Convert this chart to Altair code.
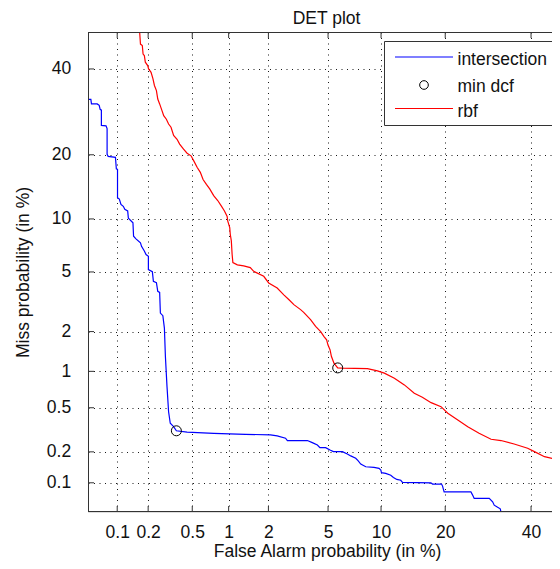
import altair as alt
import pandas as pd
from statistics import NormalDist

nd = NormalDist()

# ---------------- data (percent) ----------------
tick_labels = [0.1, 0.2, 0.5, 1, 2, 5, 10, 20, 40]

intersection_fa = [0.050, 0.0536, 0.0544, 0.0624, 0.0655, 0.067, 0.069, 0.069, 0.077, 0.079,
                   0.079, 0.081, 0.096, 0.098, 0.1007, 0.1007, 0.105, 0.109, 0.115, 0.119,
                   0.127, 0.129, 0.143, 0.145, 0.153, 0.169, 0.173, 0.184, 0.191, 0.201,
                   0.201, 0.219, 0.224, 0.239, 0.246, 0.256, 0.260, 0.274, 0.283, 0.289,
                   0.299, 0.309, 0.320, 0.343, 0.363, 0.451, 0.757, 1.35, 2.07, 2.31,
                   2.64, 2.72, 3.70, 3.98, 4.29, 4.45, 4.83, 5.14, 5.39, 6.10,
                   6.52, 6.82, 7.28, 7.50, 7.77, 8.28, 9.18, 9.76, 9.97, 10.05,
                   10.57, 11.22, 11.57, 12.03, 12.58, 12.83, 17.35, 17.66, 19.30, 19.49,
                   19.79, 25.28, 25.66, 26.01, 29.46, 30.27, 30.65, 31.48, 32.12, 32.29]
intersection_miss = [32.2, 32.2, 31.1, 31.1, 30.75, 29.8, 29.6, 26.1, 26.0, 25.4,
                     20.1, 19.7, 19.5, 17.4, 17.3, 12.8, 12.6, 11.85, 11.6, 11.2,
                     11.0, 10.1, 9.54, 8.07, 7.81, 7.41, 7.09, 6.66, 6.35, 6.21,
                     5.17, 5.02, 4.37, 4.29, 3.77, 3.71, 2.70, 2.59, 2.12, 1.31,
                     0.753, 0.462, 0.366, 0.341, 0.313, 0.305, 0.297, 0.291, 0.287, 0.281,
                     0.268, 0.255, 0.255, 0.244, 0.232, 0.219, 0.219, 0.208, 0.201, 0.201,
                     0.191, 0.183, 0.174, 0.165, 0.153, 0.144, 0.142, 0.139, 0.134, 0.126,
                     0.124, 0.119, 0.113, 0.108, 0.106, 0.101, 0.100, 0.097, 0.097, 0.0926,
                     0.081, 0.081, 0.075, 0.0693, 0.0693, 0.0639, 0.059, 0.056, 0.054, 0.050]

rbf_fa = [0.166, 0.169, 0.176, 0.179, 0.184, 0.188, 0.198, 0.202, 0.213, 0.222,
          0.229, 0.239, 0.246, 0.256, 0.269, 0.279, 0.295, 0.309, 0.325, 0.343,
          0.368, 0.388, 0.420, 0.451, 0.488, 0.514, 0.550, 0.586, 0.618, 0.659,
          0.702, 0.757, 0.817, 0.870, 0.926, 0.973, 0.983, 1.02, 1.03, 1.05,
          1.065, 1.08, 1.17, 1.31, 1.47, 1.56, 1.85, 2.01, 2.31, 2.57,
          2.79, 3.01, 3.34, 3.50, 3.88, 4.18, 4.50, 4.72, 4.90, 4.99,
          5.14, 5.24, 5.43, 5.72, 6.10, 8.46, 9.57, 10.4, 11.7, 13.1,
          14.6, 15.9, 17.4, 19.2, 20.5, 22.5, 24.6, 27.1, 29.9, 32.3,
          35.6, 39.1, 40.9, 43.6, 48.1]
rbf_miss = [50.0, 46.7, 46.3, 44.0, 43.6, 41.8, 40.9, 40.0, 39.1, 37.4,
            35.7, 34.4, 32.3, 31.1, 29.5, 28.3, 27.5, 26.4, 25.7, 23.9,
            23.1, 22.1, 21.1, 20.3, 19.8, 18.9, 17.7, 16.8, 15.6, 14.8,
            14.1, 13.1, 12.4, 11.7, 11.0, 10.3, 9.77, 9.00, 8.28, 7.61,
            6.38, 5.70, 5.52, 5.44, 5.31, 5.04, 4.70, 4.27, 3.96, 3.58,
            3.32, 3.08, 2.85, 2.73, 2.43, 2.18, 2.00, 1.84, 1.74, 1.60,
            1.47, 1.31, 1.16, 1.065, 1.06, 1.05, 1.01, 0.968, 0.882, 0.778,
            0.664, 0.615, 0.553, 0.511, 0.448, 0.391, 0.341, 0.297, 0.262, 0.255,
            0.237, 0.216, 0.201, 0.180, 0.165]

mindcf_fa = [0.363, 5.72]
mindcf_miss = [0.313, 1.065]

legend_labels = ["intersection", "min dcf", "rbf"]
title_text = "DET plot"
x_title = "False Alarm probability (in %)"
y_title = "Miss probability (in %)"

BLUE = "#0000ff"
RED = "#ff0000"
AXIS_COLOR = "#333333"
TEXT_COLOR = "#111111"
FONT = "Liberation Sans"
FS = 17.5


def probit(p):
    return nd.inv_cdf(p / 100.0)


def curve_df(fa, miss):
    return pd.DataFrame({"i": list(range(len(fa))),
                         "zx": [probit(v) for v in fa],
                         "zy": [probit(v) for v in miss]})


# plot area (the page body is 544px wide, so the chart must not exceed that)
W, H = 464, 480
z_lo = probit(0.05)
px_per_unit = H / (0.0 - z_lo)          # same normal-deviate scale on both axes
x_dom = [z_lo, z_lo + W / px_per_unit]
y_dom = [z_lo, 0.0]
tick_z = [probit(t) for t in tick_labels]
label_expr = " : ".join(
    f"abs(datum.value - ({z:.6f})) < 0.001 ? '{t:g}'" for t, z in zip(tick_labels, tick_z)
) + " : ''"

common_axis = dict(values=tick_z, labelExpr=label_expr, grid=True, gridColor="#000000",
                   gridDash=[1, 4.5], gridWidth=1, gridOpacity=0.9, ticks=False, tickSize=0,
                   domain=False, labelFont=FONT, labelFontSize=FS, labelColor=TEXT_COLOR,
                   labelOverlap=False, labelFlush=False, titleFont=FONT, titleFontSize=FS,
                   titleFontWeight="normal", titleColor=TEXT_COLOR, titleBaseline="alphabetic")

x_axis = alt.Axis(**common_axis, labelPadding=11.5, labelBaseline="top", title=x_title,
                  titleX=239, titleY=44.5)
y_axis = alt.Axis(**common_axis, labelPadding=17.3, title=y_title, titleX=-60, titleY=240,
                  titleAngle=270)

x_scale = alt.Scale(domain=x_dom, nice=False, zero=False)
y_scale = alt.Scale(domain=y_dom, nice=False, zero=False)


def xenc():
    return alt.X("zx:Q", scale=x_scale, axis=x_axis)


def yenc():
    return alt.Y("zy:Q", scale=y_scale, axis=y_axis)


blue_line = alt.Chart(curve_df(intersection_fa, intersection_miss)).mark_line(
    color=BLUE, strokeWidth=1.2, clip=True).encode(x=xenc(), y=yenc(), order="i:Q")
red_line = alt.Chart(curve_df(rbf_fa, rbf_miss)).mark_line(
    color=RED, strokeWidth=1.2, clip=True).encode(x=xenc(), y=yenc(), order="i:Q")
dcf_points = alt.Chart(curve_df(mindcf_fa, mindcf_miss)).mark_point(
    shape="circle", filled=False, color="#000000", size=100, strokeWidth=1, opacity=1
).encode(x=xenc(), y=yenc())

ticks_df = pd.DataFrame({"zx": tick_z, "zy": tick_z})
tick_style = dict(color=AXIS_COLOR, strokeWidth=1)
bottom_ticks = alt.Chart(ticks_df).mark_rule(**tick_style).encode(
    x=xenc(), y=alt.value(H), y2=alt.value(H - 6))
top_ticks = alt.Chart(ticks_df).mark_rule(**tick_style).encode(
    x=xenc(), y=alt.value(0), y2=alt.value(6))
left_ticks = alt.Chart(ticks_df).mark_rule(**tick_style).encode(
    y=yenc(), x=alt.value(0), x2=alt.value(6))

one = pd.DataFrame({"k": [0]})
box_style = dict(color=AXIS_COLOR, strokeWidth=1)
left_line = alt.Chart(one).mark_rule(**box_style).encode(
    x=alt.value(0.5), y=alt.value(0), y2=alt.value(H))
top_line = alt.Chart(one).mark_rule(**box_style).encode(
    x=alt.value(0), x2=alt.value(W), y=alt.value(0.5))
bottom_line = alt.Chart(one).mark_rule(**box_style).encode(
    x=alt.value(0), x2=alt.value(W), y=alt.value(H - 0.5))

# title as a text mark above the plot, centred on the full (cut-off) axes box
title_mark = alt.Chart(one).mark_text(
    text=title_text, font=FONT, fontSize=FS, color=TEXT_COLOR, align="center",
    baseline="alphabetic").encode(x=alt.value(238.5), y=alt.value(-7.6))

# legend (drawn by hand, MATLAB-style box, its right side cut off like the reference)
leg_box = alt.Chart(one).mark_rect(fill="#ffffff", stroke=AXIS_COLOR, strokeWidth=1).encode(
    x=alt.value(296.5), x2=alt.value(W + 20), y=alt.value(9.5), y2=alt.value(93.5))
leg_blue = alt.Chart(one).mark_rule(color=BLUE, strokeWidth=1.2).encode(
    x=alt.value(307), x2=alt.value(365), y=alt.value(25))
leg_red = alt.Chart(one).mark_rule(color=RED, strokeWidth=1.2).encode(
    x=alt.value(307), x2=alt.value(365), y=alt.value(76.5))
leg_circle = alt.Chart(one).mark_point(shape="circle", filled=False, color="#000000", size=75,
                                       strokeWidth=1, opacity=1).encode(
    x=alt.value(336), y=alt.value(53))
text_style = dict(font=FONT, fontSize=FS, color=TEXT_COLOR, align="left", baseline="alphabetic")
leg_t1 = alt.Chart(one).mark_text(text=legend_labels[0], **text_style).encode(
    x=alt.value(369.5), y=alt.value(33))
leg_t2 = alt.Chart(one).mark_text(text=legend_labels[1], **text_style).encode(
    x=alt.value(369.5), y=alt.value(59.5))
leg_t3 = alt.Chart(one).mark_text(text=legend_labels[2], **text_style).encode(
    x=alt.value(369.5), y=alt.value(84.5))

chart = alt.layer(
    blue_line, red_line, dcf_points,
    bottom_ticks, top_ticks, left_ticks,
    left_line, top_line, bottom_line,
    title_mark,
    leg_box, leg_blue, leg_red, leg_circle, leg_t1, leg_t2, leg_t3,
).properties(
    width=W, height=H,
    autosize=alt.AutoSizeParams(type="none"),
    padding={"left": 80, "top": 24, "right": 0, "bottom": 49},
).configure_view(strokeWidth=0).configure(background="#ffffff")

chart.save("out.html", embed_options={"renderer": "svg", "actions": False})
